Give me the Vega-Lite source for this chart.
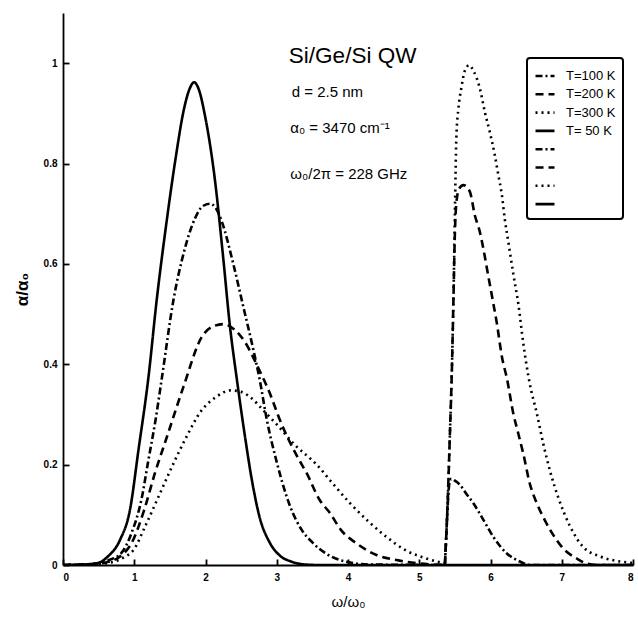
{
  "$schema": "https://vega.github.io/schema/vega-lite/v6.json",
  "width": 570,
  "height": 552,
  "autosize": {"type": "none"},
  "padding": {"left": 63, "top": 13, "right": 5, "bottom": 57},
  "background": "white",
  "config": {
    "view": {"stroke": null},
    "font": "Liberation Sans",
    "axis": {
      "domainColor": "black",
      "domainWidth": 1.8,
      "grid": false,
      "labelColor": "black",
      "labelFont": "Liberation Sans",
      "labelFontSize": 10,
      "labelFontWeight": "bold",
      "titleColor": "black",
      "titleFont": "Liberation Sans",
      "titleFontWeight": "normal"
    }
  },
  "datasets": {
    "curves": [
      {"s": "T=100 K", "x": 0, "y": 0}, {"s": "T=100 K", "x": 0.4, "y": 0.002}, {"s": "T=100 K", "x": 0.65, "y": 0.01}, {"s": "T=100 K", "x": 0.82, "y": 0.024}, {"s": "T=100 K", "x": 0.96, "y": 0.063}, {"s": "T=100 K", "x": 1.1, "y": 0.13}, {"s": "T=100 K", "x": 1.2, "y": 0.21}, {"s": "T=100 K", "x": 1.3, "y": 0.29}, {"s": "T=100 K", "x": 1.39, "y": 0.375}, {"s": "T=100 K", "x": 1.55, "y": 0.528}, {"s": "T=100 K", "x": 1.7, "y": 0.625}, {"s": "T=100 K", "x": 1.85, "y": 0.69}, {"s": "T=100 K", "x": 1.96, "y": 0.715}, {"s": "T=100 K", "x": 2.06, "y": 0.72}, {"s": "T=100 K", "x": 2.15, "y": 0.71}, {"s": "T=100 K", "x": 2.23, "y": 0.684}, {"s": "T=100 K", "x": 2.39, "y": 0.6}, {"s": "T=100 K", "x": 2.53, "y": 0.515}, {"s": "T=100 K", "x": 2.67, "y": 0.43}, {"s": "T=100 K", "x": 2.76, "y": 0.37}, {"s": "T=100 K", "x": 2.86, "y": 0.29}, {"s": "T=100 K", "x": 3.0, "y": 0.205}, {"s": "T=100 K", "x": 3.19, "y": 0.116}, {"s": "T=100 K", "x": 3.35, "y": 0.07}, {"s": "T=100 K", "x": 3.5, "y": 0.045}, {"s": "T=100 K", "x": 3.7, "y": 0.022}, {"s": "T=100 K", "x": 4.03, "y": 0.005}, {"s": "T=100 K", "x": 4.3, "y": 0.001}, {"s": "T=100 K", "x": 5.36, "y": 0},
      {"s": "T=200 K", "x": 0, "y": 0}, {"s": "T=200 K", "x": 0.45, "y": 0.002}, {"s": "T=200 K", "x": 0.6, "y": 0.005}, {"s": "T=200 K", "x": 0.8, "y": 0.017}, {"s": "T=200 K", "x": 0.96, "y": 0.043}, {"s": "T=200 K", "x": 1.14, "y": 0.11}, {"s": "T=200 K", "x": 1.29, "y": 0.183}, {"s": "T=200 K", "x": 1.46, "y": 0.256}, {"s": "T=200 K", "x": 1.69, "y": 0.355}, {"s": "T=200 K", "x": 1.95, "y": 0.455}, {"s": "T=200 K", "x": 2.1, "y": 0.475}, {"s": "T=200 K", "x": 2.25, "y": 0.48}, {"s": "T=200 K", "x": 2.4, "y": 0.47}, {"s": "T=200 K", "x": 2.55, "y": 0.445}, {"s": "T=200 K", "x": 2.75, "y": 0.39}, {"s": "T=200 K", "x": 2.88, "y": 0.35}, {"s": "T=200 K", "x": 3.07, "y": 0.28}, {"s": "T=200 K", "x": 3.3, "y": 0.213}, {"s": "T=200 K", "x": 3.42, "y": 0.183}, {"s": "T=200 K", "x": 3.6, "y": 0.13}, {"s": "T=200 K", "x": 3.75, "y": 0.103}, {"s": "T=200 K", "x": 3.9, "y": 0.07}, {"s": "T=200 K", "x": 4.12, "y": 0.043}, {"s": "T=200 K", "x": 4.4, "y": 0.02}, {"s": "T=200 K", "x": 4.68, "y": 0.01}, {"s": "T=200 K", "x": 5.0, "y": 0.003}, {"s": "T=200 K", "x": 5.36, "y": 0},
      {"s": "T=300 K", "x": 0, "y": 0}, {"s": "T=300 K", "x": 0.5, "y": 0.002}, {"s": "T=300 K", "x": 0.7, "y": 0.006}, {"s": "T=300 K", "x": 0.85, "y": 0.015}, {"s": "T=300 K", "x": 0.99, "y": 0.03}, {"s": "T=300 K", "x": 1.15, "y": 0.076}, {"s": "T=300 K", "x": 1.34, "y": 0.136}, {"s": "T=300 K", "x": 1.53, "y": 0.196}, {"s": "T=300 K", "x": 1.71, "y": 0.249}, {"s": "T=300 K", "x": 1.95, "y": 0.309}, {"s": "T=300 K", "x": 2.15, "y": 0.335}, {"s": "T=300 K", "x": 2.35, "y": 0.348}, {"s": "T=300 K", "x": 2.5, "y": 0.345}, {"s": "T=300 K", "x": 2.65, "y": 0.332}, {"s": "T=300 K", "x": 2.8, "y": 0.31}, {"s": "T=300 K", "x": 3.0, "y": 0.28}, {"s": "T=300 K", "x": 3.25, "y": 0.24}, {"s": "T=300 K", "x": 3.56, "y": 0.2}, {"s": "T=300 K", "x": 3.8, "y": 0.16}, {"s": "T=300 K", "x": 4.03, "y": 0.123}, {"s": "T=300 K", "x": 4.3, "y": 0.085}, {"s": "T=300 K", "x": 4.54, "y": 0.056}, {"s": "T=300 K", "x": 4.8, "y": 0.03}, {"s": "T=300 K", "x": 5.1, "y": 0.013}, {"s": "T=300 K", "x": 5.36, "y": 0.003},
      {"s": "T= 50 K", "x": 0, "y": 0}, {"s": "T= 50 K", "x": 0.3, "y": 0.001}, {"s": "T= 50 K", "x": 0.49, "y": 0.004}, {"s": "T= 50 K", "x": 0.63, "y": 0.017}, {"s": "T= 50 K", "x": 0.8, "y": 0.05}, {"s": "T= 50 K", "x": 0.94, "y": 0.11}, {"s": "T= 50 K", "x": 1.06, "y": 0.23}, {"s": "T= 50 K", "x": 1.2, "y": 0.375}, {"s": "T= 50 K", "x": 1.315, "y": 0.528}, {"s": "T= 50 K", "x": 1.45, "y": 0.68}, {"s": "T= 50 K", "x": 1.58, "y": 0.81}, {"s": "T= 50 K", "x": 1.7, "y": 0.91}, {"s": "T= 50 K", "x": 1.78, "y": 0.95}, {"s": "T= 50 K", "x": 1.84, "y": 0.962}, {"s": "T= 50 K", "x": 1.9, "y": 0.95}, {"s": "T= 50 K", "x": 2.0, "y": 0.89}, {"s": "T= 50 K", "x": 2.13, "y": 0.77}, {"s": "T= 50 K", "x": 2.25, "y": 0.61}, {"s": "T= 50 K", "x": 2.34, "y": 0.48}, {"s": "T= 50 K", "x": 2.44, "y": 0.37}, {"s": "T= 50 K", "x": 2.55, "y": 0.26}, {"s": "T= 50 K", "x": 2.65, "y": 0.17}, {"s": "T= 50 K", "x": 2.76, "y": 0.095}, {"s": "T= 50 K", "x": 2.9, "y": 0.045}, {"s": "T= 50 K", "x": 3.05, "y": 0.018}, {"s": "T= 50 K", "x": 3.2, "y": 0.007}, {"s": "T= 50 K", "x": 3.4, "y": 0.001}, {"s": "T= 50 K", "x": 3.6, "y": 0}, {"s": "T= 50 K", "x": 5.36, "y": 0},
      {"s": "T=100 K set2", "x": 5.36, "y": 0}, {"s": "T=100 K set2", "x": 5.38, "y": 0.06}, {"s": "T=100 K set2", "x": 5.4, "y": 0.12}, {"s": "T=100 K set2", "x": 5.42, "y": 0.16}, {"s": "T=100 K set2", "x": 5.45, "y": 0.172}, {"s": "T=100 K set2", "x": 5.5, "y": 0.168}, {"s": "T=100 K set2", "x": 5.57, "y": 0.16}, {"s": "T=100 K set2", "x": 5.66, "y": 0.142}, {"s": "T=100 K set2", "x": 5.76, "y": 0.123}, {"s": "T=100 K set2", "x": 5.9, "y": 0.09}, {"s": "T=100 K set2", "x": 6.04, "y": 0.056}, {"s": "T=100 K set2", "x": 6.23, "y": 0.023}, {"s": "T=100 K set2", "x": 6.41, "y": 0.007}, {"s": "T=100 K set2", "x": 6.55, "y": 0}, {"s": "T=100 K set2", "x": 8, "y": 0},
      {"s": "T=200 K set2", "x": 5.36, "y": 0}, {"s": "T=200 K set2", "x": 5.4, "y": 0.13}, {"s": "T=200 K set2", "x": 5.43, "y": 0.26}, {"s": "T=200 K set2", "x": 5.46, "y": 0.4}, {"s": "T=200 K set2", "x": 5.48, "y": 0.53}, {"s": "T=200 K set2", "x": 5.5, "y": 0.66}, {"s": "T=200 K set2", "x": 5.52, "y": 0.72}, {"s": "T=200 K set2", "x": 5.56, "y": 0.75}, {"s": "T=200 K set2", "x": 5.62, "y": 0.757}, {"s": "T=200 K set2", "x": 5.71, "y": 0.744}, {"s": "T=200 K set2", "x": 5.78, "y": 0.697}, {"s": "T=200 K set2", "x": 5.85, "y": 0.664}, {"s": "T=200 K set2", "x": 5.9, "y": 0.63}, {"s": "T=200 K set2", "x": 5.97, "y": 0.575}, {"s": "T=200 K set2", "x": 6.04, "y": 0.521}, {"s": "T=200 K set2", "x": 6.09, "y": 0.481}, {"s": "T=200 K set2", "x": 6.16, "y": 0.415}, {"s": "T=200 K set2", "x": 6.23, "y": 0.372}, {"s": "T=200 K set2", "x": 6.32, "y": 0.302}, {"s": "T=200 K set2", "x": 6.39, "y": 0.262}, {"s": "T=200 K set2", "x": 6.46, "y": 0.222}, {"s": "T=200 K set2", "x": 6.55, "y": 0.163}, {"s": "T=200 K set2", "x": 6.65, "y": 0.123}, {"s": "T=200 K set2", "x": 6.76, "y": 0.09}, {"s": "T=200 K set2", "x": 6.88, "y": 0.06}, {"s": "T=200 K set2", "x": 7.02, "y": 0.033}, {"s": "T=200 K set2", "x": 7.21, "y": 0.013}, {"s": "T=200 K set2", "x": 7.35, "y": 0.003}, {"s": "T=200 K set2", "x": 7.5, "y": 0}, {"s": "T=200 K set2", "x": 8, "y": 0},
      {"s": "T=300 K set2", "x": 5.36, "y": 0.003}, {"s": "T=300 K set2", "x": 5.4, "y": 0.13}, {"s": "T=300 K set2", "x": 5.43, "y": 0.26}, {"s": "T=300 K set2", "x": 5.46, "y": 0.4}, {"s": "T=300 K set2", "x": 5.48, "y": 0.53}, {"s": "T=300 K set2", "x": 5.5, "y": 0.7}, {"s": "T=300 K set2", "x": 5.51, "y": 0.78}, {"s": "T=300 K set2", "x": 5.52, "y": 0.85}, {"s": "T=300 K set2", "x": 5.55, "y": 0.91}, {"s": "T=300 K set2", "x": 5.59, "y": 0.95}, {"s": "T=300 K set2", "x": 5.64, "y": 0.985}, {"s": "T=300 K set2", "x": 5.7, "y": 0.996}, {"s": "T=300 K set2", "x": 5.76, "y": 0.985}, {"s": "T=300 K set2", "x": 5.85, "y": 0.95}, {"s": "T=300 K set2", "x": 5.92, "y": 0.903}, {"s": "T=300 K set2", "x": 5.99, "y": 0.863}, {"s": "T=300 K set2", "x": 6.06, "y": 0.817}, {"s": "T=300 K set2", "x": 6.11, "y": 0.777}, {"s": "T=300 K set2", "x": 6.16, "y": 0.737}, {"s": "T=300 K set2", "x": 6.2, "y": 0.69}, {"s": "T=300 K set2", "x": 6.25, "y": 0.644}, {"s": "T=300 K set2", "x": 6.32, "y": 0.58}, {"s": "T=300 K set2", "x": 6.39, "y": 0.521}, {"s": "T=300 K set2", "x": 6.46, "y": 0.442}, {"s": "T=300 K set2", "x": 6.55, "y": 0.362}, {"s": "T=300 K set2", "x": 6.65, "y": 0.302}, {"s": "T=300 K set2", "x": 6.74, "y": 0.242}, {"s": "T=300 K set2", "x": 6.84, "y": 0.185}, {"s": "T=300 K set2", "x": 6.95, "y": 0.135}, {"s": "T=300 K set2", "x": 7.12, "y": 0.076}, {"s": "T=300 K set2", "x": 7.3, "y": 0.036}, {"s": "T=300 K set2", "x": 7.54, "y": 0.017}, {"s": "T=300 K set2", "x": 7.82, "y": 0.007}, {"s": "T=300 K set2", "x": 8, "y": 0.004},
      {"s": "T= 50 K set2", "x": 5.36, "y": 0}, {"s": "T= 50 K set2", "x": 8, "y": 0}
    ],
    "notes": [
      {"k": "title", "t": "Si/Ge/Si QW", "x": 3.17, "y": 1.015},
      {"k": "param", "t": "d = 2.5 nm", "x": 3.21, "y": 0.943},
      {"k": "param", "t": "α₀ = 3470 cm⁻¹", "x": 3.19, "y": 0.87},
      {"k": "param", "t": "ω₀/2π = 228 GHz", "x": 3.19, "y": 0.78}
    ]
  },
  "layer": [
    {
      "data": {"name": "curves"},
      "mark": {"type": "line", "color": "black", "strokeWidth": 2.6, "interpolate": "monotone", "clip": true},
      "encoding": {
        "x": {
          "field": "x", "type": "quantitative",
          "scale": {"domain": [0, 8], "nice": false},
          "axis": {"values": [0, 1, 2, 3, 4, 5, 6, 7, 8], "format": "d", "title": "ω/ω₀", "titleFontSize": 15, "titlePadding": 12, "labelPadding": 13, "ticks": true, "tickSize": -6, "tickColor": "black", "tickWidth": 1.8}
        },
        "y": {
          "field": "y", "type": "quantitative",
          "scale": {"domain": [0, 1.1], "nice": false},
          "axis": {"values": [0, 0.2, 0.4, 0.6, 0.8, 1], "format": "~g", "title": "α/α₀", "titleFontSize": 17, "titleFontWeight": "bold", "titlePadding": 12, "labelPadding": 12, "ticks": true, "tickSize": -6, "tickColor": "black", "tickWidth": 1.8}
        },
        "strokeDash": {
          "field": "s", "type": "nominal",
          "scale": {
            "domain": ["T=100 K", "T=200 K", "T=300 K", "T= 50 K", "T=100 K set2", "T=200 K set2", "T=300 K set2", "T= 50 K set2"],
            "range": [[7, 3, 2, 3], [8, 5], [2, 4], [1, 0], [7, 3, 2, 3], [8, 5], [2, 4], [1, 0]]
          },
          "legend": {
            "orient": "none", "legendX": 464, "legendY": 45,
            "title": null,
            "symbolType": "stroke", "symbolSize": 361, "symbolStrokeWidth": 2.6, "symbolStrokeColor": "black",
            "labelExpr": "indexof(datum.label, 'set2') >= 0 ? '' : datum.label",
            "labelFont": "Liberation Sans", "labelFontSize": 13, "labelColor": "black", "labelOffset": 10,
            "rowPadding": 0.3,
            "padding": 7, "strokeColor": "black", "cornerRadius": 3, "fillColor": "white",
            "encode": {"legend": {"update": {"strokeWidth": {"value": 2}}}}
          }
        }
      }
    },
    {
      "data": {"name": "notes"},
      "mark": {"type": "text", "align": "left", "baseline": "middle", "font": "Liberation Sans", "color": "black"},
      "encoding": {
        "x": {"field": "x", "type": "quantitative"},
        "y": {"field": "y", "type": "quantitative"},
        "text": {"field": "t"},
        "size": {"condition": {"test": "datum.k === 'title'", "value": 22.5}, "value": 15}
      }
    }
  ]
}
